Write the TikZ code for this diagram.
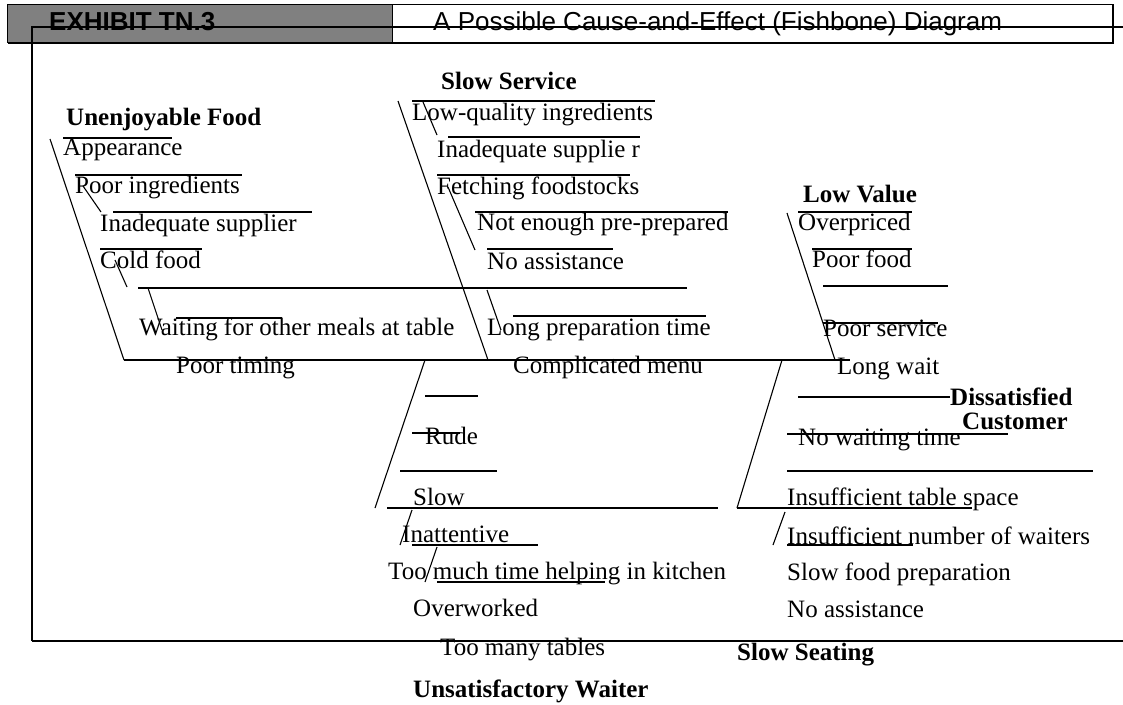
\documentclass[tikz,border=0pt]{standalone}
\usepackage{fontspec}
\setmainfont{Liberation Serif}
\newfontfamily\hdrfont{Liberation Sans}
\definecolor{hdrgray}{RGB}{128,128,128}
\begin{document}
\begin{tikzpicture}[x=1pt,y=-1pt,
  bone/.style={line width=1.1pt,black},
  txt/.style={anchor=base west,inner sep=0pt,font=\fontsize{25}{30}\selectfont},
  head/.style={txt,font=\fontsize{25}{30}\selectfont\bfseries},
  hdr/.style={anchor=base west,inner sep=0pt,font=\hdrfont\fontsize{26}{30}\selectfont}]
\useasboundingbox (0,0) rectangle (1123,704);

% ---- title bar ----
\filldraw[fill=hdrgray,draw=black,line width=1pt] (7,4) rectangle (392,42);
\filldraw[fill=white,draw=black,line width=1pt] (392,4) rectangle (1112,42);
\draw[line width=2.6pt] (8,43) -- (1114,43);
\draw[line width=2.2pt] (1113,4) -- (1113,44);
\node[hdr,font=\hdrfont\fontsize{26}{30}\selectfont\bfseries] (exh) at (49,30) {EXHIBIT TN.3};
\node[hdr] (ttl) at (433,30) {A Possible Cause-and-Effect (Fishbone) Diagram};

% ---- outer frame ----
\draw[line width=1.1pt] (32,641) -- (32,27) -- (1123,27);
\draw[line width=2.8pt] (32,641) -- (1123,641);

% ---- spine ----
\coordinate (headL) at (124,360);
\coordinate (headR) at (850,360);
\draw[bone] (headL) -- (headR);

% ---- Unenjoyable Food ----
\draw[bone] (50,139) -- (headL);
\draw[bone] (63,138) -- (172,138);
\draw[bone] (75,175) -- (242,175);
\draw[bone] (83,186) -- (101,212);
\draw[bone] (113,212) -- (312,212);
\draw[bone] (100,249) -- (202,249);
\draw[bone] (115,260) -- (127,287);
\draw[bone] (138,288) -- (687,288);
\draw[bone] (148,288) -- (162,330);
\draw[bone] (176,318) -- (282,318);
\node[head] (uf) at (66,125) {Unenjoyable Food};
\node[txt] (uf1) at (63,155) {Appearance};
\node[txt] (uf2) at (75,193) {Poor ingredients};
\node[txt] (uf3) at (100,231) {Inadequate supplier};
\node[txt] (uf4) at (100,268) {Cold food};
\node[txt] (uf5) at (139,335) {Waiting for other meals at table};
\node[txt] (uf6) at (176,373) {Poor timing};

% ---- Slow Service ----
\draw[bone] (398,101) -- (488,360);
\draw[bone] (412,101) -- (655,101);
\draw[bone] (423,102) -- (437,135);
\draw[bone] (448,137) -- (640,137);
\draw[bone] (437,175) -- (630,175);
\draw[bone] (448,187) -- (475,250);
\draw[bone] (475,212) -- (728,212);
\draw[bone] (487,249) -- (613,249);
\draw[bone] (487,290) -- (501,330);
\draw[bone] (513,316) -- (706,316);
\node[head] (ss) at (441,89) {Slow Service};
\node[txt] (ss1) at (412,120) {Low-quality ingredients};
\node[txt] (ss2) at (437,157) {Inadequate supplie r};
\node[txt] (ss3) at (437,194) {Fetching foodstocks};
\node[txt] (ss4) at (477,230) {Not enough pre-prepared};
\node[txt] (ss5) at (487,269) {No assistance};
\node[txt] (ss6) at (487,335) {Long preparation time};
\node[txt] (ss7) at (513,373) {Complicated menu};

% ---- Low Value ----
\draw[bone] (787,213) -- (835,360);
\draw[bone] (798,212) -- (912,212);
\draw[bone] (812,249) -- (912,249);
\draw[bone] (823,286) -- (948,286);
\draw[bone] (823,323) -- (938,323);
\node[head] (lv) at (803,202) {Low Value};
\node[txt] (lv1) at (798,230) {Overpriced};
\node[txt] (lv2) at (812,267) {Poor food};
\node[txt] (lv3) at (823,336) {Poor service};
\node[txt] (lv4) at (837,374) {Long wait};

% ---- effect ----
\node[head] (dc1) at (950,405) {Dissatisfied};
\node[head] (dc2) at (962,429) {Customer};

% ---- Unsatisfactory Waiter ----
\draw[bone] (425,360) -- (375,508);
\draw[bone] (425,396) -- (478,396);
\draw[bone] (412,433) -- (460,433);
\draw[bone] (400,471) -- (497,471);
\draw[bone] (387,508) -- (718,508);
\draw[bone] (412,510) -- (400,545);
\draw[bone] (412,545) -- (538,545);
\draw[bone] (437,547) -- (425,582);
\draw[bone] (437,582) -- (605,582);
\node[txt] (uw1) at (425,444) {Rude};
\node[txt] (uw2) at (413,505) {Slow};
\node[txt] (uw3) at (402,542) {Inattentive};
\node[txt] (uw4) at (388,579) {Too much time helping in kitchen};
\node[txt] (uw5) at (413,616) {Overworked};
\node[txt] (uw6) at (440,655) {Too many tables};
\node[head] (uw) at (413,697) {Unsatisfactory Waiter};

% ---- Slow Seating ----
\draw[bone] (782,360) -- (737,508);
\draw[bone] (798,397) -- (dc1.west |- 0,397);
\draw[bone] (787,434) -- (1008,434);
\draw[bone] (787,471) -- (1093,471);
\draw[bone] (737,508) -- (972,508);
\draw[bone] (785,512) -- (773,545);
\draw[bone] (787,545) -- (913,545);
\node[txt] (st1) at (798,445) {No waiting time};
\node[txt] (st2) at (787,505) {Insufficient table space};
\node[txt] (st3) at (787,544) {Insufficient number of waiters};
\node[txt] (st4) at (787,580) {Slow food preparation};
\node[txt] (st5) at (787,617) {No assistance};
\node[head] (st) at (737,660) {Slow Seating};
\end{tikzpicture}
\end{document}
